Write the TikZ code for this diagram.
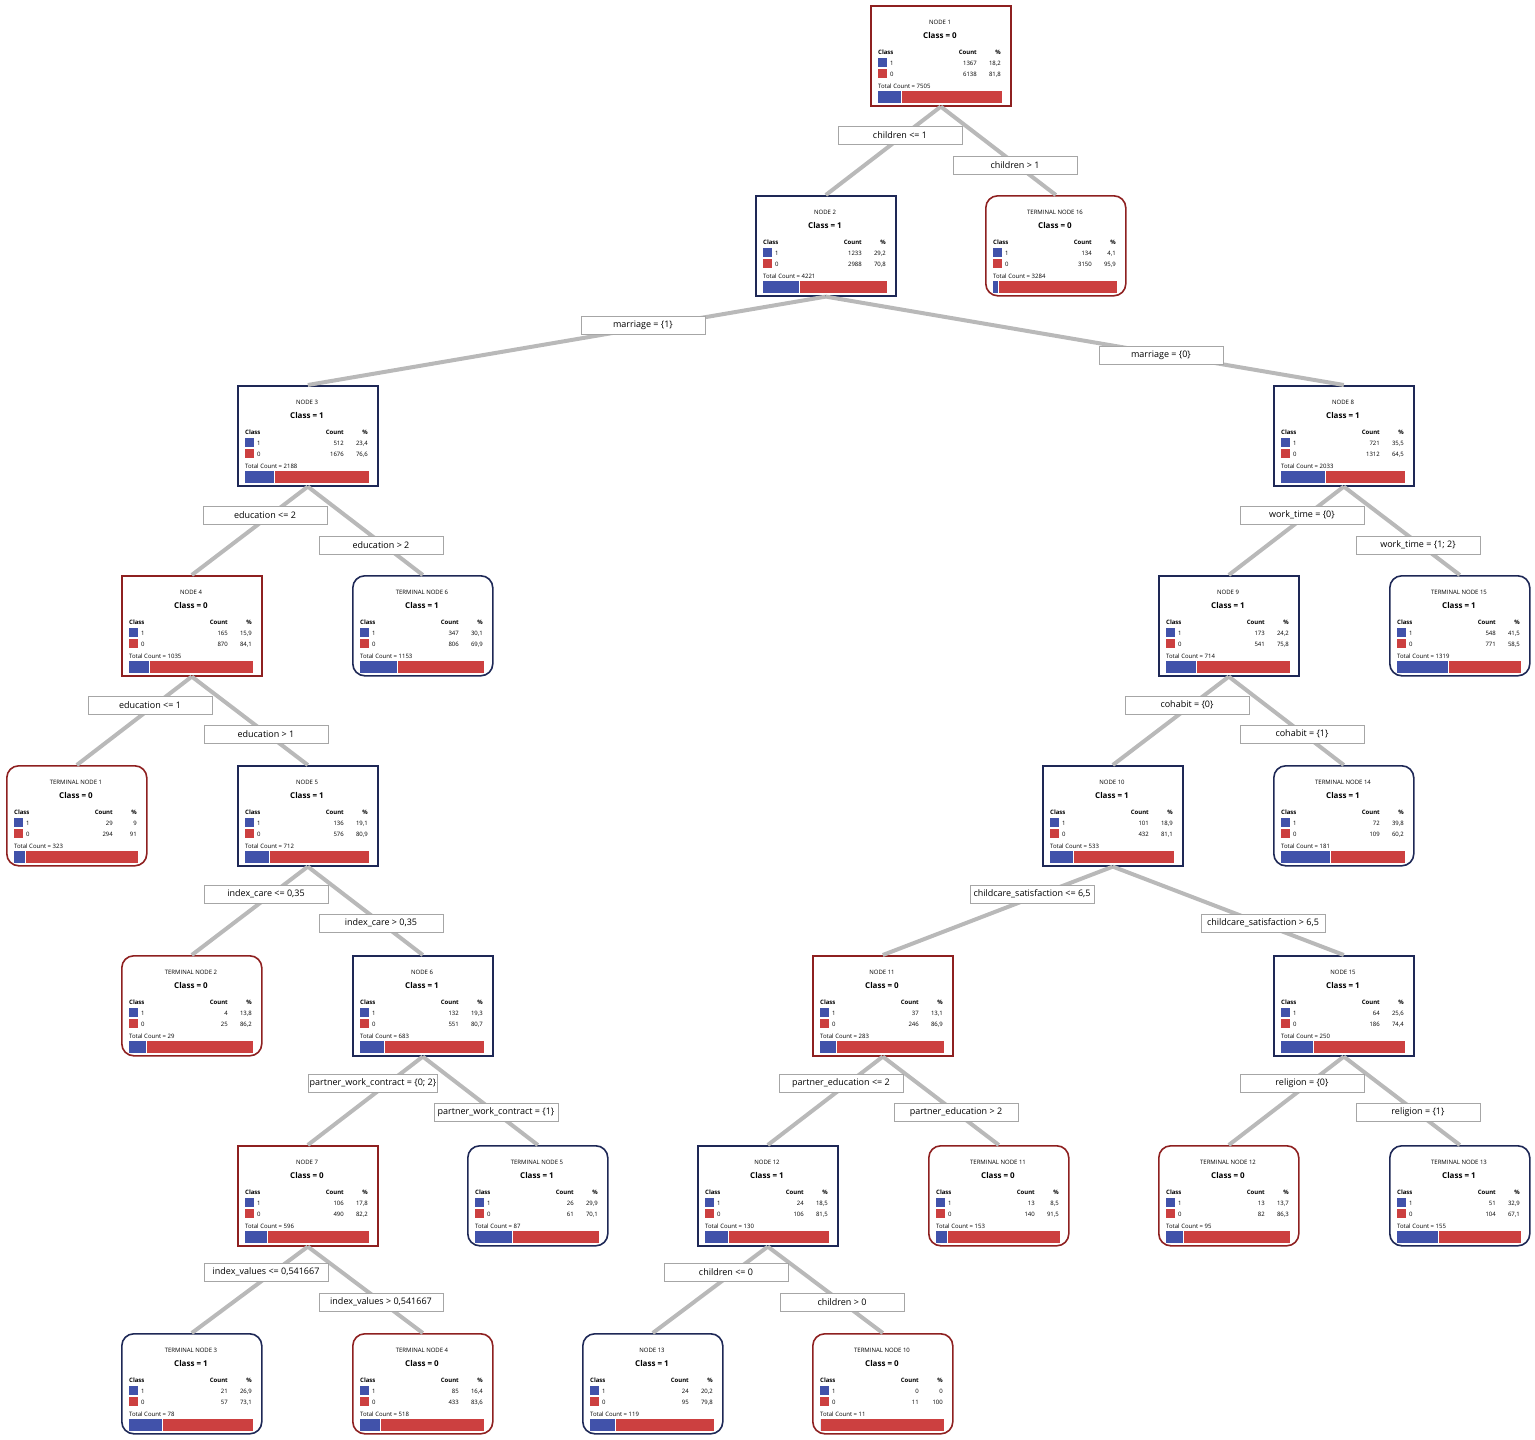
\documentclass[tikz,border=0pt]{standalone}
\usepackage{fontspec}
\setmainfont{Open Sans}
\definecolor{bred}{HTML}{8E2020}
\definecolor{bnavy}{HTML}{1E2856}
\definecolor{fblue}{HTML}{4152AA}
\definecolor{fred}{HTML}{CC4040}
\tikzset{
 nbase/.style={draw,fill=white,line width=1.6pt,minimum width=140pt,minimum height=100pt,anchor=north west,inner sep=0pt},
 nsqr/.style={nbase,draw=bred},
 nsqb/.style={nbase,draw=bnavy},
 nrdr/.style={nbase,draw=bred,rounded corners=12pt},
 nrdb/.style={nbase,draw=bnavy,rounded corners=12pt},
 edg/.style={draw=gray!55,line width=4pt},
 lbl/.style={draw=gray!70,fill=white,line width=0.8pt,minimum width=124pt,minimum height=18pt,inner sep=1pt,font=\fontsize{9}{10}\selectfont},
 tx/.style={inner sep=0pt,font=\fontsize{6}{7}\selectfont}
}
\newcommand\NB[7]{%
 \node[#4] (#1) at (#2,#3) {};
 \node[tx] at ({#2+70},{#3+17}) {#5};
 \node[tx,font=\fontsize{8}{9}\selectfont\bfseries] at ({#2+70},{#3+30}) {Class = #6};
 \node[tx,anchor=base west] at ({#2+8},{#3+49}) {\textbf{Class}};
 \node[tx,anchor=base east] at ({#2+107},{#3+49}) {\textbf{Count}};
 \node[tx,anchor=base east] at ({#2+131},{#3+49}) {\textbf{\%}};
 \node[tx,anchor=base west] at ({#2+8},{#3+83}) {Total Count = #7};
}
\newcommand\ND[7]{%
 \fill[fblue] ({#1+8},{#2+53}) rectangle ({#1+17},{#2+62});
 \fill[fred] ({#1+8},{#2+64}) rectangle ({#1+17},{#2+73});
 \node[tx,anchor=base west] at ({#1+20},{#2+60}) {1};
 \node[tx,anchor=base west] at ({#1+20},{#2+71}) {0};
 \node[tx,anchor=base east] at ({#1+107},{#2+60}) {#3};
 \node[tx,anchor=base east] at ({#1+131},{#2+60}) {#4};
 \node[tx,anchor=base east] at ({#1+107},{#2+71}) {#5};
 \node[tx,anchor=base east] at ({#1+131},{#2+71}) {#6};
 \fill[fblue] ({#1+8},{#2+86}) rectangle ({#1+8+124*#7},{#2+98});
 \fill[fred] ({#1+9+124*#7},{#2+86}) rectangle ({#1+132},{#2+98});
}
\begin{document}
\begin{tikzpicture}[x=1pt,y=-1pt]
\useasboundingbox (0,0) rectangle (1535,1440);
\NB{N1}{870}{5}{nsqr}{NODE 1}{0}{7505}\ND{870}{5}{1367}{18,2}{6138}{81,8}{0.182}
\NB{N2}{755}{195}{nsqb}{NODE 2}{1}{4221}\ND{755}{195}{1233}{29,2}{2988}{70,8}{0.292}
\NB{T16}{985}{195}{nrdr}{TERMINAL NODE 16}{0}{3284}\ND{985}{195}{134}{4,1}{3150}{95,9}{0.041}
\NB{N3}{237}{385}{nsqb}{NODE 3}{1}{2188}\ND{237}{385}{512}{23,4}{1676}{76,6}{0.234}
\NB{N8}{1273}{385}{nsqb}{NODE 8}{1}{2033}\ND{1273}{385}{721}{35,5}{1312}{64,5}{0.355}
\NB{N4}{121}{575}{nsqr}{NODE 4}{0}{1035}\ND{121}{575}{165}{15,9}{870}{84,1}{0.159}
\NB{T6}{352}{575}{nrdb}{TERMINAL NODE 6}{1}{1153}\ND{352}{575}{347}{30,1}{806}{69,9}{0.301}
\NB{N9}{1158}{575}{nsqb}{NODE 9}{1}{714}\ND{1158}{575}{173}{24,2}{541}{75,8}{0.242}
\NB{T15}{1389}{575}{nrdb}{TERMINAL NODE 15}{1}{1319}\ND{1389}{575}{548}{41,5}{771}{58,5}{0.415}
\NB{T1}{6}{765}{nrdr}{TERMINAL NODE 1}{0}{323}\ND{6}{765}{29}{9}{294}{91}{0.09}
\NB{N5}{237}{765}{nsqb}{NODE 5}{1}{712}\ND{237}{765}{136}{19,1}{576}{80,9}{0.191}
\NB{N10}{1042}{765}{nsqb}{NODE 10}{1}{533}\ND{1042}{765}{101}{18,9}{432}{81,1}{0.189}
\NB{T14}{1273}{765}{nrdb}{TERMINAL NODE 14}{1}{181}\ND{1273}{765}{72}{39,8}{109}{60,2}{0.398}
\NB{T2}{121}{955}{nrdr}{TERMINAL NODE 2}{0}{29}\ND{121}{955}{4}{13,8}{25}{86,2}{0.138}
\NB{N6}{352}{955}{nsqb}{NODE 6}{1}{683}\ND{352}{955}{132}{19,3}{551}{80,7}{0.193}
\NB{N11}{812}{955}{nsqr}{NODE 11}{0}{283}\ND{812}{955}{37}{13,1}{246}{86,9}{0.131}
\NB{N15}{1273}{955}{nsqb}{NODE 15}{1}{250}\ND{1273}{955}{64}{25,6}{186}{74,4}{0.256}
\NB{N7}{237}{1145}{nsqr}{NODE 7}{0}{596}\ND{237}{1145}{106}{17,8}{490}{82,2}{0.178}
\NB{T5}{467}{1145}{nrdb}{TERMINAL NODE 5}{1}{87}\ND{467}{1145}{26}{29,9}{61}{70,1}{0.299}
\NB{N12}{697}{1145}{nsqb}{NODE 12}{1}{130}\ND{697}{1145}{24}{18,5}{106}{81,5}{0.185}
\NB{T11}{928}{1145}{nrdr}{TERMINAL NODE 11}{0}{153}\ND{928}{1145}{13}{8,5}{140}{91,5}{0.085}
\NB{T12}{1158}{1145}{nrdr}{TERMINAL NODE 12}{0}{95}\ND{1158}{1145}{13}{13,7}{82}{86,3}{0.137}
\NB{T13}{1389}{1145}{nrdb}{TERMINAL NODE 13}{1}{155}\ND{1389}{1145}{51}{32,9}{104}{67,1}{0.329}
\NB{T3}{121}{1333}{nrdb}{TERMINAL NODE 3}{1}{78}\ND{121}{1333}{21}{26,9}{57}{73,1}{0.269}
\NB{T4}{352}{1333}{nrdr}{TERMINAL NODE 4}{0}{518}\ND{352}{1333}{85}{16,4}{433}{83,6}{0.164}
\NB{N13}{582}{1333}{nrdb}{NODE 13}{1}{119}\ND{582}{1333}{24}{20,2}{95}{79,8}{0.202}
\NB{T10}{812}{1333}{nrdr}{TERMINAL NODE 10}{0}{11}\ND{812}{1333}{0}{0}{11}{100}{0}
\foreach \a/\b in {N1/N2,N1/T16,N2/N3,N2/N8,N3/N4,N3/T6,N8/N9,N8/T15,N4/T1,N4/N5,N9/N10,N9/T14,N5/T2,N5/N6,N10/N11,N10/N15,N6/N7,N6/T5,N11/N12,N11/T11,N15/T12,N15/T13,N7/T3,N7/T4,N12/N13,N12/T10}
  \draw[edg] (\a.south) -- (\b.north);
\node[lbl] (L1) at (900,135) {children <= 1};
\node[lbl] (L2) at (1015,165) {children > 1};
\node[lbl] (L3) at (643,325) {marriage = \{1\}};
\node[lbl] (L4) at (1161,355) {marriage = \{0\}};
\node[lbl] (L5) at (265,515) {education <= 2};
\node[lbl] (L6) at (381,545) {education > 2};
\node[lbl] (L7) at (1302,515) {work\_time = \{0\}};
\node[lbl] (L8) at (1418,545) {work\_time = \{1; 2\}};
\node[lbl] (L9) at (150,705) {education <= 1};
\node[lbl] (L10) at (266,734) {education > 1};
\node[lbl] (L11) at (1187,705) {cohabit = \{0\}};
\node[lbl] (L12) at (1302,734) {cohabit = \{1\}};
\node[lbl] (L13) at (266,894) {index\_care <= 0,35};
\node[lbl] (L14) at (381,923) {index\_care > 0,35};
\node[lbl] (L15) at (1032,894) {childcare\_satisfaction <= 6,5};
\node[lbl] (L16) at (1263,923) {childcare\_satisfaction > 6,5};
\node[lbl] (L17) at (373,1083) {partner\_work\_contract = \{0; 2\}};
\node[lbl] (L18) at (496,1112) {partner\_work\_contract = \{1\}};
\node[lbl] (L19) at (841,1083) {partner\_education <= 2};
\node[lbl] (L20) at (956,1112) {partner\_education > 2};
\node[lbl] (L21) at (1302,1083) {religion = \{0\}};
\node[lbl] (L22) at (1418,1112) {religion = \{1\}};
\node[lbl] (L23) at (266,1272) {index\_values <= 0,541667};
\node[lbl] (L24) at (381,1302) {index\_values > 0,541667};
\node[lbl] (L25) at (726,1272) {children <= 0};
\node[lbl] (L26) at (842,1302) {children > 0};
\end{tikzpicture}
\end{document}
